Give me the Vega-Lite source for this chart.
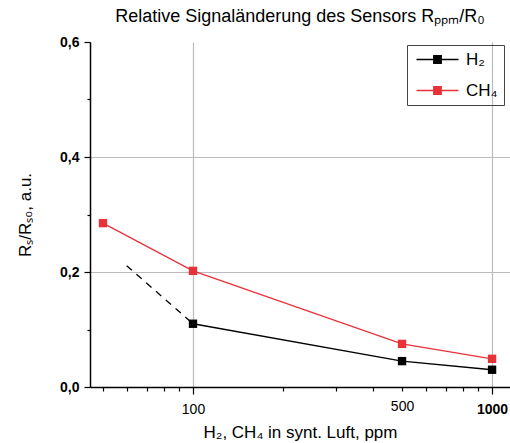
{
  "$schema": "https://vega.github.io/schema/vega-lite/v6.json",
  "width": 420,
  "height": 345,
  "autosize": "none",
  "padding": {"left": 90, "top": 42, "right": 0, "bottom": 56},
  "background": "white",
  "title": {
    "text": "Relative Signaländerung des Sensors Rₚₚₘ/R₀",
    "font": "Liberation Sans",
    "fontSize": 18,
    "fontWeight": "normal",
    "anchor": "middle",
    "offset": 9,
    "color": "black"
  },
  "config": {
    "view": {"stroke": null},
    "font": "Liberation Sans",
    "axis": {
      "domainColor": "black",
      "domainWidth": 1.5,
      "tickColor": "black",
      "tickWidth": 1.2,
      "labelFont": "Liberation Sans",
      "labelFontSize": 14,
      "labelColor": "black",
      "titleFont": "Liberation Sans",
      "titleFontSize": 17,
      "titleFontWeight": "normal",
      "titleColor": "black",
      "gridColor": "#bbbbbb",
      "gridWidth": 1.2
    }
  },
  "datasets": {
    "main": [
      {"gas": "H₂", "conc": 100, "value": 0.11},
      {"gas": "H₂", "conc": 500, "value": 0.045},
      {"gas": "H₂", "conc": 1000, "value": 0.03},
      {"gas": "CH₄", "conc": 50, "value": 0.285},
      {"gas": "CH₄", "conc": 100, "value": 0.202},
      {"gas": "CH₄", "conc": 500, "value": 0.075},
      {"gas": "CH₄", "conc": 1000, "value": 0.049}
    ],
    "dash": [
      {"conc": 60, "value": 0.211},
      {"conc": 100, "value": 0.11}
    ],
    "top": [
      {"value": 0.6}
    ]
  },
  "encoding": {
    "x": {
      "field": "conc",
      "type": "quantitative",
      "scale": {"type": "log", "domain": [45.25, 1148], "nice": false},
      "axis": {
        "title": "H₂, CH₄ in synt. Luft, ppm",
        "values": [50, 60, 70, 80, 90, 100, 200, 300, 400, 500, 600, 700, 800, 900, 1000],
        "labelExpr": "indexof([100, 500, 1000], datum.value) >= 0 ? format(datum.value, 'd') : ''",
        "labelOverlap": false,
        "labelFlush": false,
        "labelPadding": 8,
        "titlePadding": 8,
        "labelFontWeight": {"condition": {"test": "datum.value == 1000", "value": "bold"}, "value": "normal"},
        "tickSize": {"condition": {"test": "datum.value == 100 || datum.value == 1000", "value": 7}, "value": 4},
        "grid": true,
        "gridOpacity": {"condition": {"test": "datum.value == 100 || datum.value == 1000", "value": 1}, "value": 0}
      }
    },
    "y": {
      "field": "value",
      "type": "quantitative",
      "scale": {"domain": [0, 0.6], "nice": false},
      "axis": {
        "title": "Rₛ/Rₛ₀, a.u.",
        "values": [0, 0.1, 0.2, 0.3, 0.4, 0.5, 0.6],
        "labelExpr": "(round(datum.value * 10) % 2 == 0) ? replace(format(datum.value, '.1f'), '.', ',') : ''",
        "labelFontWeight": "bold",
        "labelPadding": 5,
        "titlePadding": 25,
        "tickSize": {"condition": {"test": "round(datum.value * 10) % 2 == 0", "value": 6}, "value": 3},
        "grid": true,
        "gridOpacity": {"condition": {"test": "abs(datum.value - 0.2) < 0.001 || abs(datum.value - 0.4) < 0.001", "value": 1}, "value": 0}
      }
    }
  },
  "layer": [
    {
      "data": {"name": "top"},
      "mark": {"type": "rule", "color": "black", "strokeWidth": 1.5},
      "encoding": {"x": {"datum": 45.25}, "x2": {"datum": 1148}, "y": {"field": "value", "type": "quantitative"}}
    },
    {
      "data": {"name": "dash"},
      "mark": {"type": "line", "color": "black", "strokeWidth": 1.3, "strokeDash": [7, 6]},
      "encoding": {}
    },
    {
      "data": {"name": "main"},
      "mark": {"type": "line", "strokeWidth": 1.3},
      "encoding": {
        "order": {"field": "conc", "type": "quantitative"},
        "color": {
          "field": "gas",
          "type": "nominal",
          "scale": {"domain": ["H₂", "CH₄"], "range": ["black", "#e8323a"]},
          "legend": {
            "orient": "none",
            "legendX": 317,
            "legendY": 3,
            "title": null,
            "symbolType": "M-1,0H7.4M2.45,-0.75H3.95V0.75H2.45Z",
            "symbolSize": 100,
            "symbolStrokeWidth": 1.3,
            "labelOffset": 36,
            "labelFont": "Liberation Sans",
            "labelFontSize": 17,
            "labelColor": "black",
            "strokeColor": "#444444",
            "padding": 6,
            "rowPadding": 13,
            "encode": {
              "symbols": {
                "update": {
                  "fill": {"scale": "color", "field": "value"},
                  "stroke": {"scale": "color", "field": "value"},
                  "opacity": {"value": 1}
                }
              }
            }
          }
        }
      }
    },
    {
      "data": {"name": "main"},
      "mark": {"type": "point", "shape": "square", "filled": true, "size": 70, "opacity": 1},
      "encoding": {
        "color": {
          "field": "gas",
          "type": "nominal",
          "scale": {"domain": ["H₂", "CH₄"], "range": ["black", "#e8323a"]},
          "legend": null
        }
      }
    }
  ]
}
